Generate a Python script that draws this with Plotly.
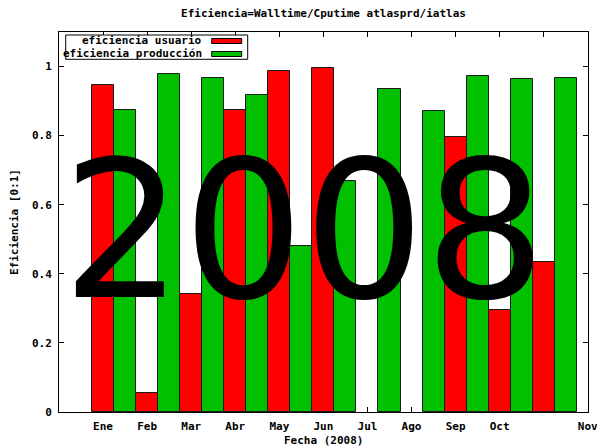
import plotly.graph_objects as go

# ---- data ----
months = ["Ene", "Feb", "Mar", "Abr", "May", "Jun", "Jul", "Ago", "Sep", "Oct", "Nov"]
usuario = [0.947, 0.056, 0.341, 0.873, 0.988, 0.996, None, None, 0.795, 0.295, 0.433]
produccion = [0.873, 0.979, 0.966, 0.919, 0.480, 0.668, 0.934, 0.870, 0.972, 0.963, 0.966]
series_names = ["eficiencia usuario", "eficiencia producción"]
tick_labels = ["Ene", "Feb", "Mar", "Abr", "May", "Jun", "Jul", "Ago", "Sep", "Oct", "", "Nov"]
y_ticks = [0, 0.2, 0.4, 0.6, 0.8, 1]
y_tick_text = ["0", "0.2", "0.4", "0.6", "0.8", "1"]
title_text = "Eficiencia=Walltime/Cputime atlasprd/iatlas"
x_title = "Fecha (2008)"
y_title = "Eficiencia [0:1]"
overlay_text = "2008"

RED = "#ff0000"
GREEN = "#00c000"
EDGE = "#1a1a1a"
MONO = dict(family="DejaVu Sans Mono", size=11, color="black", weight="bold")

W, H = 597, 448
L, R, T, B = 59, 9, 32, 36
PW, PH = W - L - R, H - T - B


def px(xp):
    return (xp - L) / PW


def py(yp):
    return (H - B - yp) / PH


xpos = list(range(len(months)))
tickvals = [i - 0.25 for i in range(len(tick_labels))]

fig = go.Figure()
fig.add_bar(x=xpos, y=usuario, name=series_names[0],
            marker=dict(color=RED, line=dict(color=EDGE, width=1)))
fig.add_bar(x=xpos, y=produccion, name=series_names[1],
            marker=dict(color=GREEN, line=dict(color=EDGE, width=1)))

axis_common = dict(
    showline=True, linecolor="black", linewidth=1, mirror="ticks",
    ticks="inside", ticklen=5, tickcolor="black", tickwidth=1,
    showgrid=False, zeroline=False, tickfont=MONO, automargin=False,
)

fig.update_layout(
    width=W, height=H,
    margin=dict(l=L, r=R, t=T, b=B, pad=0, autoexpand=False),
    paper_bgcolor="white", plot_bgcolor="white",
    barmode="group", bargap=0, bargroupgap=0,
    showlegend=False,
    title=dict(text=title_text, font=MONO, x=0.5, xref="paper",
               y=1 - 13 / H, yref="container", yanchor="middle",
               automargin=False),
    xaxis=dict(range=[-1.25, 10.755], tickmode="array", tickvals=tickvals,
               ticktext=tick_labels, layer="below traces",
               ticklabelstandoff=4, ticklabeloverflow="allow",
               **axis_common),
    yaxis=dict(range=[0, 1.1], tickmode="array", tickvals=y_ticks,
               ticktext=y_tick_text, ticklabelstandoff=4,
               **axis_common),
)

# axis titles
fig.add_annotation(text=x_title, xref="paper", yref="paper",
                   x=0.5, y=py(441), xanchor="center", yanchor="middle",
                   showarrow=False, font=MONO)
fig.add_annotation(text=y_title, xref="paper", yref="paper",
                   x=px(14), y=0.5, xanchor="center", yanchor="middle",
                   textangle=-90, showarrow=False, font=MONO)

# legend (gnuplot style: text right-aligned, sample to the right, boxed)
fig.add_shape(type="rect", xref="paper", yref="paper",
              x0=px(65.7), x1=px(247.7), y0=py(59.3), y1=py(35),
              line=dict(color="black", width=1), fillcolor="white", layer="above")
rows = [(41, RED, series_names[0]), (54, GREEN, series_names[1])]
for yc, col, name in rows:
    fig.add_shape(type="rect", xref="paper", yref="paper",
                  x0=px(211.7), x1=px(241.7), y0=py(yc + 2.5), y1=py(yc - 2.5),
                  line=dict(color="black", width=1), fillcolor=col, layer="above")
    fig.add_annotation(text=name, xref="paper", yref="paper",
                       x=px(204), y=py(yc), xanchor="right", yanchor="middle",
                       showarrow=False, font=MONO)

# big overlay year
fig.add_annotation(text=overlay_text, xref="paper", yref="paper",
                   x=px(304), y=py(231.5), xanchor="center", yanchor="middle",
                   showarrow=False,
                   font=dict(family="DejaVu Sans", size=190, color="black"))

fig.write_html("out.html",
               config={"displayModeBar": False},
               post_script="document.body.style.margin='0';"
                           "document.body.style.overflow='hidden';")
